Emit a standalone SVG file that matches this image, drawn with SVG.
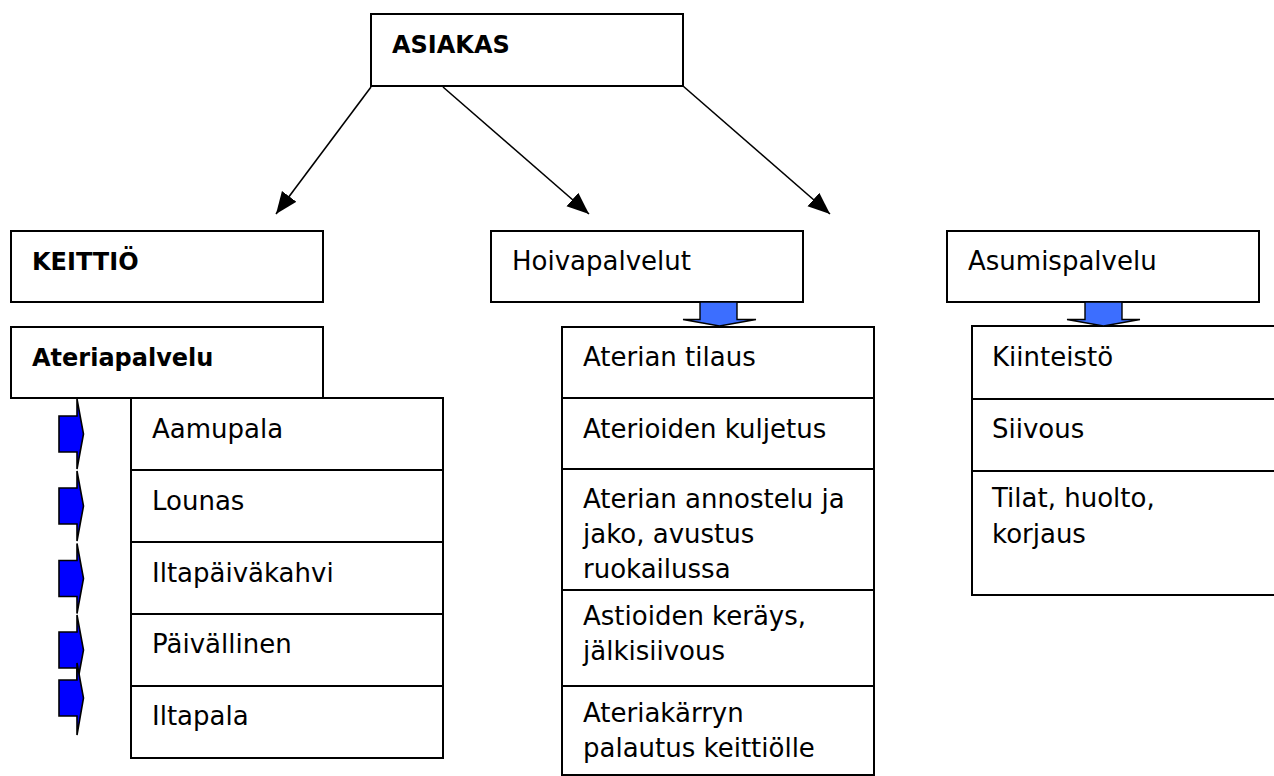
<svg xmlns="http://www.w3.org/2000/svg" width="1274" height="776" viewBox="0 0 1274 776">
<defs>
<style>
.box{fill:#fff;stroke:#000;stroke-width:2}
.t{font-family:"DejaVu Sans",Verdana,sans-serif;font-size:26px;fill:#000}
.b{font-family:"DejaVu Sans",Verdana,sans-serif;font-size:24px;font-weight:bold;fill:#000}
.ln{fill:none;stroke:#000;stroke-width:1.6}
.ra{fill:#0000FF;stroke:#000;stroke-width:1.6;stroke-linejoin:miter}
.da{fill:#3C6EFF;stroke:#000;stroke-width:1.4}
</style>
<marker id="ah" markerUnits="userSpaceOnUse" markerWidth="24" markerHeight="20" refX="22" refY="9" orient="auto">
<path d="M0,0 L22,9 L0,18 Z" fill="#000"/>
</marker>
</defs>
<rect width="1274" height="776" fill="#fff"/>

<g id="asiakas">
<rect class="box" x="371" y="14" width="312" height="72"/>
<text class="b" x="392" y="53">ASIAKAS</text>
</g>

<g id="keittio">
<rect class="box" x="11" y="231" width="312" height="71"/>
<text class="b" x="32" y="270">KEITTIÖ</text>
</g>

<g id="ateriapalvelu">
<rect class="box" x="11" y="327" width="312" height="71"/>
<text class="b" x="32" y="366">Ateriapalvelu</text>
</g>

<g id="ateriat">
<rect class="box" x="131" y="398" width="312" height="72"/>
<text class="t" x="152" y="438">Aamupala</text>
<rect class="box" x="131" y="470" width="312" height="72"/>
<text class="t" x="152" y="510">Lounas</text>
<rect class="box" x="131" y="542" width="312" height="72"/>
<text class="t" x="152" y="582">Iltapäiväkahvi</text>
<rect class="box" x="131" y="614" width="312" height="72"/>
<text class="t" x="152" y="653">Päivällinen</text>
<rect class="box" x="131" y="686" width="312" height="72"/>
<text class="t" x="152" y="725">Iltapala</text>
</g>

<g id="hoivapalvelut">
<rect class="box" x="491" y="231" width="312" height="71"/>
<text class="t" x="512" y="270">Hoivapalvelut</text>
</g>

<g id="hoiva-tehtavat">
<rect class="box" x="562" y="327" width="312" height="71"/>
<text class="t" x="583" y="366">Aterian tilaus</text>
<rect class="box" x="562" y="398" width="312" height="71"/>
<text class="t" x="583" y="438">Aterioiden kuljetus</text>
<rect class="box" x="562" y="469" width="312" height="121"/>
<text class="t" x="583" y="508">Aterian annostelu ja</text>
<text class="t" x="583" y="543">jako, avustus</text>
<text class="t" x="583" y="578">ruokailussa</text>
<rect class="box" x="562" y="590" width="312" height="96"/>
<text class="t" x="583" y="625">Astioiden keräys,</text>
<text class="t" x="583" y="660">jälkisiivous</text>
<rect class="box" x="562" y="686" width="312" height="89"/>
<text class="t" x="583" y="722">Ateriakärryn</text>
<text class="t" x="583" y="757">palautus keittiölle</text>
</g>

<g id="asumispalvelu">
<rect class="box" x="947" y="231" width="312" height="71"/>
<text class="t" x="968" y="270">Asumispalvelu</text>
</g>

<g id="asumis-tehtavat">
<rect class="box" x="972" y="326" width="312" height="73"/>
<text class="t" x="992" y="366">Kiinteistö</text>
<rect class="box" x="972" y="399" width="312" height="72"/>
<text class="t" x="992" y="438">Siivous</text>
<rect class="box" x="972" y="471" width="312" height="124"/>
<text class="t" x="992" y="507">Tilat, huolto,</text>
<text class="t" x="992" y="543">korjaus</text>
</g>

<g id="connectors">
<line class="ln" x1="371" y1="87" x2="276" y2="214" marker-end="url(#ah)"/>
<line class="ln" x1="443" y1="87" x2="589" y2="214" marker-end="url(#ah)"/>
<line class="ln" x1="683" y1="86" x2="830" y2="214" marker-end="url(#ah)"/>
<path class="da" d="M700,302 H737 V319.5 H756 L719.5,326 L683,319.5 H700 Z"/>
<path class="da" d="M1085,302 H1122 V319.5 H1140 L1103.5,326 L1067,319.5 H1085 Z"/>
<path class="ra" d="M59,416 H77 V399 L83.5,434 L77,469 V452 H59 Z"/>
<path class="ra" d="M59,488 H77 V471 L83.5,506 L77,541 V524 H59 Z"/>
<path class="ra" d="M59,560.5 H77 V543.5 L83.5,578.5 L77,613.5 V596.5 H59 Z"/>
<path class="ra" d="M59,632 H77 V615 L83.5,650 L77,685 V668 H59 Z"/>
<path class="ra" d="M59,680 H77 V663 L83.5,698 L77,735 V716 H59 Z"/>
</g>
</svg>
